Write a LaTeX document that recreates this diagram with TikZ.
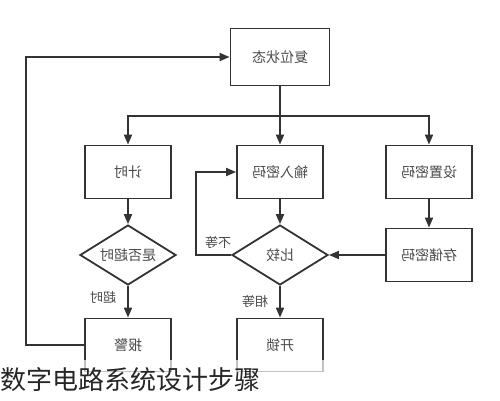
\documentclass[tikz,border=0pt]{standalone}
\usepackage{fontspec}
\usepackage{graphicx}
\newfontfamily\cjk{Noto Sans CJK SC}
\usetikzlibrary{shapes.geometric,arrows.meta}
\definecolor{linegray}{HTML}{333333}
\definecolor{textgray}{HTML}{4A4A4A}
\newcommand{\mir}[1]{\reflectbox{#1}}

\begin{document}
\begin{tikzpicture}[x=1pt,y=-1pt]
                        \tikzstyle{box}=[draw=linegray,line width=1.8pt,minimum width=86pt,minimum height=53pt,inner sep=0pt,text=textgray,font=\cjk\fontsize{14}{14}\selectfont]
                        \tikzstyle{ask}=[box,diamond,aspect=1.6,minimum width=96pt,minimum height=60pt]
                        \tikzstyle{arr}=[draw=linegray,line width=1.8pt,-{Triangle[length=10pt,width=8pt]}]
                        \tikzstyle{lbl}=[text=textgray,font=\cjk\fontsize{13}{13}\selectfont,inner sep=0pt]
                        \useasboundingbox (0,0) rectangle (500,400);
                        % boxes
                        \node[box,minimum width=99pt,minimum height=57pt] (reset) at (280,57) {\mir{复位状态}};
                        \node[box] (timer) at (128,172) {\mir{计时}};
                        \node[box] (input) at (280,172) {\mir{输入密码}};
                        \node[box] (set) at (429,172) {\mir{设置密码}};
                        \node[ask] (timeout) at (128,255) {\mir{是否超时}};
                        \node[ask] (cmp) at (280,255) {\mir{比较}};
                        \node[box] (store) at (429,255) {\mir{存储密码}};
                        \node[box] (alarm) at (128,345) {\mir{报警}};
                        \node[box] (unlock) at (280,345) {\mir{开锁}};
                        \coordinate (split) at (280,116);
                        % connectors
                        \draw[draw=linegray,line width=1.8pt] (reset) -- (split);
                        \draw[arr] (split) -| (timer);
                        \draw[arr] (split) -- (input);
                        \draw[arr] (split) -| (set);
                        \draw[arr] (timer) -- (timeout);
                        \draw[arr] (timeout) -- (alarm);
                        \draw[arr] (input) -- (cmp);
                        \draw[arr] (cmp) -- (unlock);
                        \draw[arr] (set) -- (store);
                        \draw[arr] (store) -- (cmp);
                        \draw[arr] (cmp.west) -- ++(-35,0) |- (input.west);
                        \draw[arr] (alarm.west) -- ++(-58,0) |- (reset.west);
                        % labels
                        \node[lbl] (neq) at (218,243) {\mir{不等}};
                        \node[lbl] (eq) at (255,302) {\mir{相等}};
                        \node[lbl] (over) at (103,298) {\mir{超时}};
                        % caption
                        \fill[white,opacity=0.7] (0,360) rectangle (325,374);
                        \node[anchor=west,inner sep=0pt,text=black!85,font=\cjk\fontsize{26}{26}\selectfont] (title) at (0,380) {数字电路系统设计步骤};
\end{tikzpicture}
\end{document}
